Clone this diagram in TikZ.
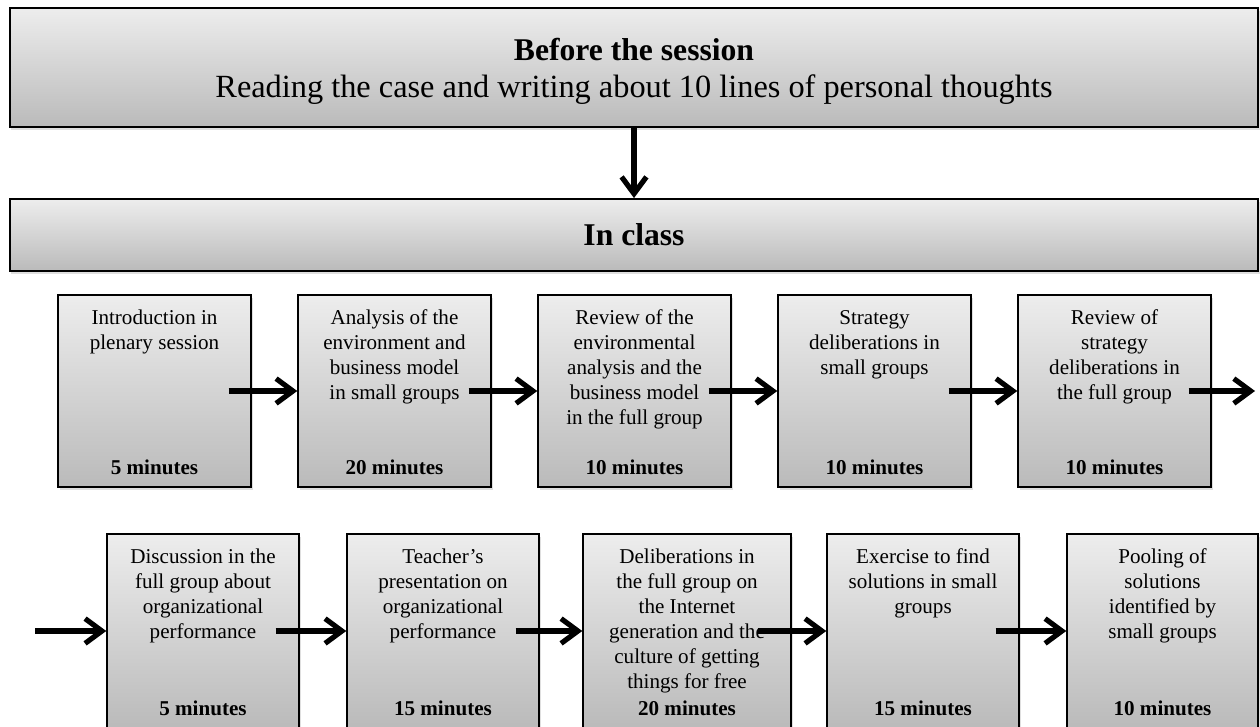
\documentclass[tikz,border=0pt]{standalone}
\usepackage{fontspec}
\setmainfont{Liberation Serif}
\usetikzlibrary{arrows.meta,shadows}
\newcommand{\steptext}[4][4.8cm]{\parbox[c][#1][t]{#2}{\centering\fontsize{15}{17.8}\selectfont\rule{0pt}{21pt}#3\par\vfill\textbf{#4}\rule[-9pt]{0pt}{9pt}}}
\begin{document}
\begin{tikzpicture}[x=0.025cm, y=-0.025cm,
  shade box/.style={draw, top color=black!7, bottom color=black!27,
    drop shadow={shadow xshift=0.04cm, shadow yshift=-0.07cm, opacity=0.25}},
  headbox/.style={shade box, line width=1.3pt, minimum width=31.2cm, inner sep=0pt},
  stepbox/.style={shade box, line width=1pt, inner sep=0pt},
  flow/.style={line width=0.13cm, -{Straight Barb[length=0.42cm, width=0.62cm]}}]
\useasboundingbox (0,0) rectangle (1260,727);
\node[headbox] (before) at (634,67.5) {\parbox[c][2.975cm][t]{31cm}{\centering\fontsize{22.5}{24}\selectfont\rule{0pt}{37pt}\textbf{Before the session}\par
  \fontsize{23}{27}\selectfont Reading the case and writing about 10 lines of personal thoughts\par}};
\node[headbox, minimum height=1.8cm, font=\fontsize{22.5}{24}\selectfont] (class) at (634,235) {\textbf{In class}};
% first row
\node[stepbox] (s1) at (154.5,391) {\steptext{4.825cm}{Introduction in\\plenary session}{5 minutes}};
\node[stepbox] (s2) at (394.5,391) {\steptext{4.825cm}{Analysis of the\\environment and\\business model\\in small groups}{20 minutes}};
\node[stepbox] (s3) at (634.5,391) {\steptext{4.825cm}{Review of the\\environmental\\analysis and the\\business model\\in the full group}{10 minutes}};
\node[stepbox] (s4) at (874.5,391) {\steptext{4.825cm}{Strategy\\deliberations in\\small groups}{10 minutes}};
\node[stepbox] (s5) at (1114.5,391) {\steptext{4.825cm}{Review of\\strategy\\deliberations in\\the full group}{10 minutes}};
% second row
\node[stepbox] (s6) at (203,631) {\steptext[4.85cm]{4.8cm}{Discussion in the\\full group about\\organizational\\performance}{5 minutes}};
\node[stepbox] (s7) at (443,631) {\steptext[4.85cm]{4.8cm}{Teacher’s\\presentation on\\organizational\\performance}{15 minutes}};
\node[stepbox] (s8) at (687,631) {\steptext[4.85cm]{5.2cm}{Deliberations in\\the full group on\\the Internet\\generation and the\\culture of getting\\things for free}{20 minutes}};
\node[stepbox] (s9) at (923,631) {\steptext[4.85cm]{4.8cm}{Exercise to find\\solutions in small\\groups}{15 minutes}};
\node[stepbox] (s10) at (1162.5,631) {\steptext[4.85cm]{4.775cm}{Pooling of\\solutions\\identified by\\small groups}{10 minutes}};
\coordinate (rowend) at (1255,391);
\coordinate (rowstart) at (35,631);
\draw[flow] (before) -- (class);
\draw[flow] ([xshift=-0.575cm]s1.east) -- (s2);
\draw[flow] ([xshift=-0.575cm]s2.east) -- (s3);
\draw[flow] ([xshift=-0.575cm]s3.east) -- (s4);
\draw[flow] ([xshift=-0.575cm]s4.east) -- (s5);
\draw[flow] ([xshift=-0.575cm]s5.east) -- (rowend);
\draw[flow] (rowstart) -- (s6);
\draw[flow] ([xshift=-0.6cm]s6.east) -- (s7);
\draw[flow] ([xshift=-0.6cm]s7.east) -- (s8);
\draw[flow] ([xshift=-0.85cm]s8.east) -- (s9);
\draw[flow] ([xshift=-0.6cm]s9.east) -- (s10);
\end{tikzpicture}
\end{document}
